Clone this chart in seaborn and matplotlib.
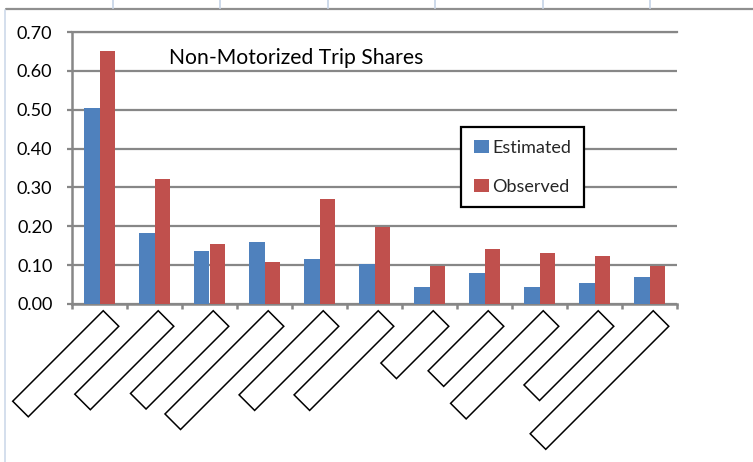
import numpy as np
import pandas as pd
import matplotlib
matplotlib.use("Agg")
import matplotlib.pyplot as plt
import matplotlib.transforms as mtransforms
from matplotlib.patches import Rectangle
from matplotlib.lines import Line2D
import seaborn as sns

# ---- data -------------------------------------------------------------
zones = [f"Z{i}" for i in range(1, 12)]
estimated = [0.504, 0.183, 0.136, 0.160, 0.115, 0.103, 0.045, 0.079, 0.045, 0.054, 0.069]
observed = [0.651, 0.322, 0.155, 0.107, 0.269, 0.198, 0.099, 0.142, 0.130, 0.123, 0.099]
series_names = ["Estimated", "Observed"]
y_ticks = [0.00, 0.10, 0.20, 0.30, 0.40, 0.50, 0.60, 0.70]
chart_title = "Non-Motorized Trip Shares"

# ---- styling / layout -------------------------------------------------
BLUE, RED = "#4F81BD", "#C0504D"
AXIS_GRAY = "#878787"
W, H = 753, 462
label_box_len = [128, 118, 117, 146, 119, 119, 74, 85, 131, 105, 174]  # px
label_box_w = 22  # px

sns.set_theme(style="white")
plt.rcParams["font.family"] = ["Lato", "DejaVu Sans"]

fig = plt.figure(figsize=(W / 100, H / 100), dpi=100)
ax = fig.add_axes([72 / W, 1 - 304 / H, (677 - 72) / W, (304 - 32) / H])

df = pd.DataFrame({
    "zone": zones * 2,
    "share": estimated + observed,
    "series": [series_names[0]] * len(zones) + [series_names[1]] * len(zones),
})
sns.barplot(data=df, x="zone", y="share", hue="series", order=zones,
            hue_order=series_names, palette=[BLUE, RED], saturation=1,
            width=0.56, gap=0, linewidth=0, legend=False, ax=ax, zorder=3)

ax.set_xlim(-0.5, len(zones) - 0.5)
ax.set_ylim(0, 0.70)
ax.set_xlabel("")
ax.set_ylabel("")

# value axis
ax.set_yticks(y_ticks)
ax.set_yticklabels([f"{v:.2f}" for v in y_ticks])
ax.yaxis.grid(True, color=AXIS_GRAY, linewidth=1.6)
ax.set_axisbelow(True)
ax.tick_params(axis="y", direction="out", length=3.6, width=1.6,
               color=AXIS_GRAY, pad=10.5, labelsize=13, labelcolor="black", left=True)

# category axis: tick marks between categories, labels are blank boxes
ax.set_xticks(np.arange(-0.5, len(zones), 1.0))
ax.set_xticklabels([])
ax.tick_params(axis="x", direction="out", length=3.6, width=1.8,
               color=AXIS_GRAY, bottom=True)

for side in ("left", "bottom"):
    ax.spines[side].set_color(AXIS_GRAY)
    ax.spines[side].set_linewidth(1.8)
ax.spines["right"].set_visible(False)
ax.spines["top"].set_color(AXIS_GRAY)
ax.spines["top"].set_linewidth(1.6)

# rotated empty category label boxes
for i, length in enumerate(label_box_len):
    tr = (mtransforms.Affine2D().rotate_deg(45).translate(11.5, -14.5)
          + mtransforms.ScaledTranslation(i, 0, ax.transData))
    box = Rectangle((-length, -label_box_w / 2), length, label_box_w,
                    facecolor="white", edgecolor="black", linewidth=1.1,
                    transform=tr, clip_on=False)
    fig.add_artist(box)

# chart title inside the plot area
fig.text(169 / W, 1 - 64 / H, chart_title, ha="left", va="baseline",
         fontsize=15.2, color="black")

# legend
handles = [Rectangle((0, 0), 1, 1, facecolor=c, edgecolor="none") for c in (BLUE, RED)]
leg = fig.legend(handles, series_names, loc="upper left",
                 bbox_to_anchor=(461 / W, 1 - 127 / H), frameon=True,
                 fancybox=False, edgecolor="black", framealpha=1,
                 borderaxespad=0, fontsize=13, handlelength=0.85,
                 handleheight=0.8, handletextpad=0.2, labelspacing=1.26,
                 borderpad=0.7)
leg.get_frame().set_linewidth(1.6)

# worksheet cell borders around the chart object
fig.add_artist(Line2D([6 / W, 1], [1 - 9 / H] * 2, color="#8f8f8f", linewidth=1.6))
fig.add_artist(Line2D([5 / W] * 2, [0, 1 - 10 / H], color="#cdd9ea", linewidth=1.2))
for xc in (113, 220, 328, 435, 543, 650):
    fig.add_artist(Line2D([xc / W] * 2, [1 - 8 / H, 1], color="#cdd9ea", linewidth=1.4))

fig.savefig("out.png", dpi=100, facecolor="white")
